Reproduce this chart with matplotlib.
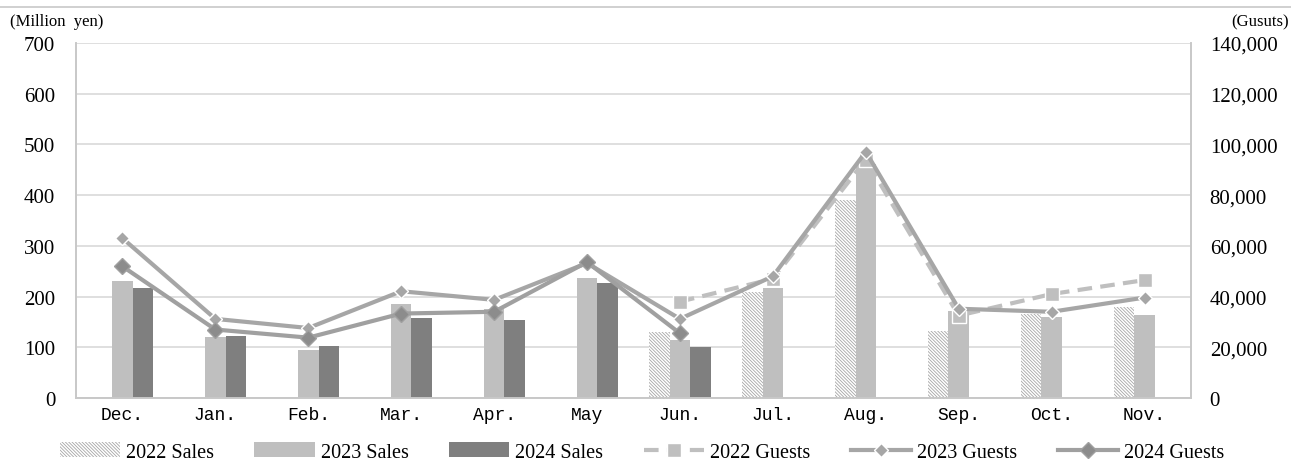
import numpy as np
import matplotlib.pyplot as plt
from matplotlib.lines import Line2D

months = ['Dec.', 'Jan.', 'Feb.', 'Mar.', 'Apr.', 'May', 'Jun.', 'Jul.', 'Aug.', 'Sep.', 'Oct.', 'Nov.']

# sales (million yen)
sales_2022 = [np.nan, np.nan, np.nan, np.nan, np.nan, np.nan, 130, 210, 391, 133, 166, 180]
sales_2023 = [231, 120, 94, 185, 176, 237, 114, 216, 461, 172, 159, 164]
sales_2024 = [216, 122, 103, 157, 153, 227, 101, np.nan, np.nan, np.nan, np.nan, np.nan]

# guests
guests_2022 = [np.nan, np.nan, np.nan, np.nan, np.nan, np.nan, 38000, 47000, 94000, 32500, 41000, 46500]
guests_2023 = [63000, 31200, 27600, 42100, 38700, 53200, 31200, 48000, 97100, 35200, 34000, 39600]
guests_2024 = [51900, 27000, 23800, 33300, 34000, 53600, 25500, np.nan, np.nan, np.nan, np.nan, np.nan]

serif = 'Liberation Serif'
plt.rcParams['hatch.color'] = '#a6a6a6'
plt.rcParams['hatch.linewidth'] = 0.6

fig = plt.figure(figsize=(12.91, 4.64), dpi=100)
ax = fig.add_axes([76 / 1291, 1 - 399 / 464, (1191 - 76) / 1291, 355 / 464])
ax2 = ax.twinx()

x = np.arange(len(months))
w = 0.22
ax.bar(x - w, sales_2022, w, color='white', hatch='\\' * 10, edgecolor='#a6a6a6', linewidth=0, label='2022 Sales', zorder=2)
ax.bar(x, sales_2023, w, color='#bfbfbf', label='2023 Sales', zorder=2)
ax.bar(x + w, sales_2024, w, color='#7f7f7f', label='2024 Sales', zorder=2)

l1, = ax2.plot(x, guests_2022, color='#bfbfbf', lw=3, ls=(0, (3.5, 2)), marker='s', ms=10,
               mfc='#bfbfbf', mec='white', mew=1, label='2022 Guests', zorder=3)
l2, = ax2.plot(x, guests_2023, color='#a6a6a6', lw=3, marker='D', ms=7.5,
               mfc='#a6a6a6', mec='white', mew=1, label='2023 Guests', zorder=4)
l3, = ax2.plot(x, guests_2024, color='#a0a0a0', lw=3, marker='D', ms=8,
               mfc='#8c8c8c', mec='#a0a0a0', mew=1, label='2024 Guests', zorder=5)

ax.set_xlim(-0.5, 11.5)
ax.set_ylim(0, 700)
ax.set_yticks(range(0, 701, 100))
ax2.set_ylim(0, 140000)
ax2.set_yticks(range(0, 140001, 20000))
ax2.set_yticklabels([f'{v:,}' for v in range(0, 140001, 20000)])

ax.set_xticks(x)
ax.set_xticklabels(months, family='Liberation Mono', fontsize=13)
ax.tick_params(axis='x', length=0, pad=6)
ax.tick_params(axis='y', length=0, pad=15, labelsize=15)
ax2.tick_params(axis='y', length=0, pad=13.5, labelsize=15)
for lab in ax.get_yticklabels() + ax2.get_yticklabels():
    lab.set_family(serif)

ax.grid(axis='y', color='#d9d9d9', lw=1.2, zorder=0)
ax.set_axisbelow(True)
for a in (ax, ax2):
    a.spines['top'].set_visible(False)
    for s in ('left', 'right', 'bottom'):
        a.spines[s].set_color('#c8c8c8')
        a.spines[s].set_linewidth(1.2)

fig.text(10 / 1291, 1 - 22 / 464, '(Million  yen)', family=serif, fontsize=12, va='center', ha='left')
fig.text(1289 / 1291, 1 - 22 / 464, '(Gusuts)', family=serif, fontsize=12, va='center', ha='right')

fig.add_artist(Line2D([0, 1], [1 - 8 / 464, 1 - 8 / 464], color='#c8c8c8', lw=1.2))

handles, labels = ax.get_legend_handles_labels()
handles += [l1, l2, l3]
labels += ['2022 Guests', '2023 Guests', '2024 Guests']
fig.legend(handles, labels, loc='center', bbox_to_anchor=(642 / 1291, 1 - 453 / 464), ncol=6,
           frameon=False, prop={'family': serif, 'size': 14.5}, handlelength=3.0,
           handletextpad=0.3, columnspacing=2.0, borderaxespad=0)

fig.savefig('out.png', dpi=100)
